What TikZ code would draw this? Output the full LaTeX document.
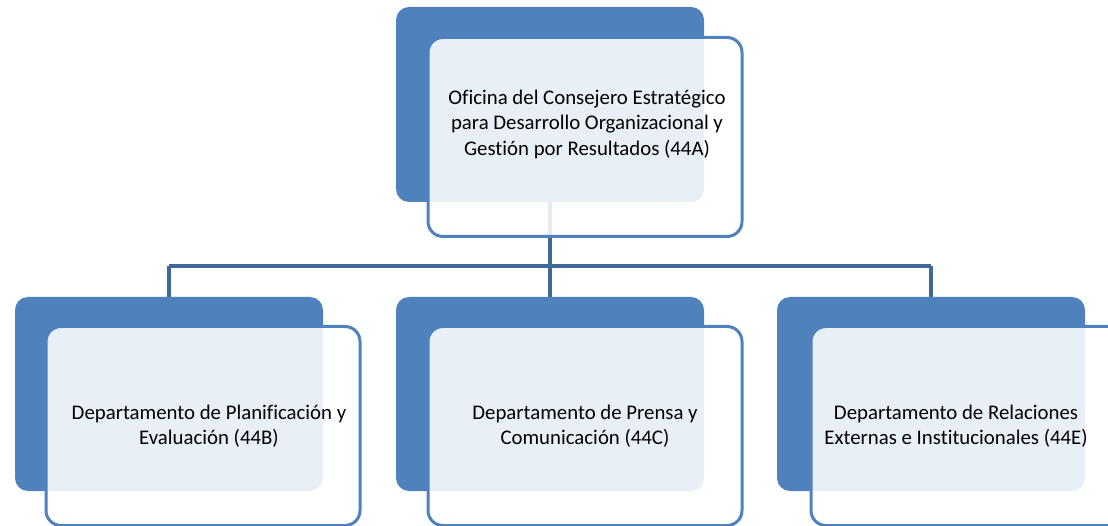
\documentclass[tikz,border=0pt]{standalone}
\usepackage{fontspec}
\setmainfont[Ligatures=NoCommon]{Carlito}
\usetikzlibrary{positioning}
\definecolor{B1}{RGB}{79,129,189}
\definecolor{B2}{RGB}{65,103,154}
\tikzstyle{backbox}=[draw=none, fill=B1, rounded corners=13pt, minimum width=308pt, minimum height=195pt, inner sep=0]
\tikzstyle{frontbox}=[draw=B1, line width=3pt, fill=white, fill opacity=0.88, rounded corners=15pt, minimum width=314pt, minimum height=199pt, inner sep=0]
\tikzstyle{txt}=[align=center, font=\fontsize{20.8}{25.5}\selectfont, inner sep=0]
\tikzstyle{link}=[B2, line width=4pt]

\begin{document}
\begin{tikzpicture}[x=1pt, y=-1pt]
    \useasboundingbox (0,0) rectangle (1108,526);
    \fill[white] (0,0) rectangle (1108,526);
    % connectors first, the boxes lie on top
    \coordinate (bus) at (550,266);
    \coordinate (busl) at (169,266); \coordinate (busr) at (931,266);
    \draw[link] (550,104) -- (bus);
    \draw[link] (busl) -- (busr);
    \draw[link] (busl) -- (169,394);
    \draw[link] (bus) -- (550,394);
    \draw[link] (busr) -- (931,394);
    % boxes
    \node[backbox] (ofiback) at (550,104.5) {};
    \node[frontbox] (ofi) at (585,137) {};
    \node[txt] (ofitxt) at (587,124) {Oficina del Consejero Estratégico\\para Desarrollo Organizacional y\\Gestión por Resultados (44A)};
    \node[backbox, minimum height=194pt] (planback) at (169,394) {};
    \node[frontbox] (plan) at (203,426) {};
    \node[txt] (plantxt) at (209,426) {Departamento de Planificación y\\Evaluación (44B)};
    \node[backbox, minimum height=194pt] (prenback) at (550,394) {};
    \node[frontbox] (pren) at (585,426) {};
    \node[txt] (prentxt) at (585,426) {Departamento de Prensa y\\Comunicación (44C)};
    \node[backbox, minimum height=194pt] (relback) at (931,394) {};
    \node[frontbox] (rel) at (968,426) {};
    \node[txt] (reltxt) at (956,426) {Departamento de Relaciones\\Externas e Institucionales (44E)};
  \end{tikzpicture}
\end{document}
